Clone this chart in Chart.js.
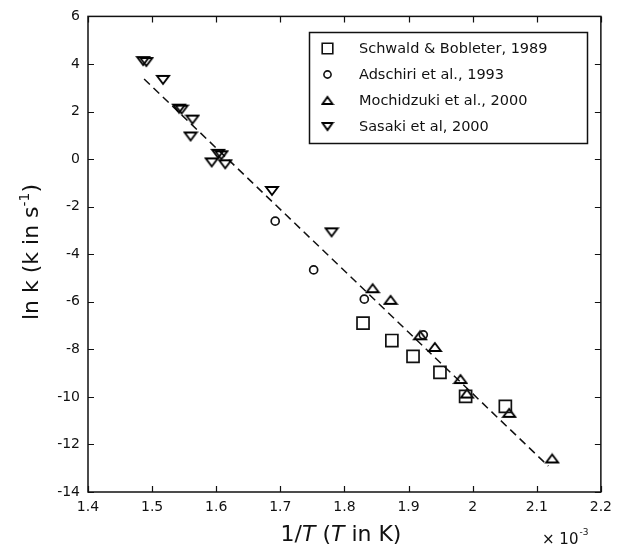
<!DOCTYPE html>
<html>
<head>
<meta charset="utf-8">
<script src="https://cdn.jsdelivr.net/npm/chart.js@4.4.0/dist/chart.umd.min.js"></script>
<style>
  html, body { margin: 0; padding: 0; background: #fff; }
  canvas { display: block; }
</style>
</head>
<body>
<canvas id="arrhenius" width="619" height="549"></canvas>
<script>
// Data (x in 1/K x 10^-3, y = ln k)
const schwaldX = [1.829, 1.874, 1.907, 1.949, 1.989, 2.051];
const schwaldY = [-6.9, -7.63, -8.3, -8.97, -9.98, -10.4];

const adschiriX = [1.692, 1.752, 1.831, 1.923];
const adschiriY = [-2.61, -4.66, -5.89, -7.39];

const mochidzukiX = [1.844, 1.872, 1.918, 1.941, 1.981, 1.991, 2.057, 2.124];
const mochidzukiY = [-5.43, -5.92, -7.41, -7.9, -9.25, -9.86, -10.67, -12.59];

const sasakiX = [1.486, 1.491, 1.517, 1.542, 1.546, 1.563, 1.560, 1.603, 1.608, 1.593, 1.614, 1.687, 1.780];
const sasakiY = [4.12, 4.08, 3.33, 2.12, 2.08, 1.66, 0.95, 0.22, 0.16, -0.14, -0.22, -1.34, -3.08];

const fitX = [1.4875, 2.118];
const fitY = [3.37, -12.91];

const seriesNames = ['Schwald & Bobleter, 1989', 'Adschiri et al., 1993', 'Mochidzuki et al., 2000', 'Sasaki et al, 2000'];

const xTicks = [1.4, 1.5, 1.6, 1.7, 1.8, 1.9, 2.0, 2.1, 2.2];
const xTickLabels = ['1.4', '1.5', '1.6', '1.7', '1.8', '1.9', '2', '2.1', '2.2'];
const yTicks = [6, 4, 2, 0, -2, -4, -6, -8, -10, -12, -14];
const yTickLabels = ['6', '4', '2', '0', '-2', '-4', '-6', '-8', '-10', '-12', '-14'];

const ink = '#111';
const fontFamily = '"DejaVu Sans", sans-serif';

// flat triangle markers (wider than tall, like the reference)
function triangleMarker(w, h, up) {
  const c = document.createElement('canvas');
  c.width = w + 4;
  c.height = h + 4;
  const g = c.getContext('2d');
  g.strokeStyle = '#000';
  g.lineWidth = 1.9;
  g.lineJoin = 'miter';
  g.beginPath();
  if (up) {
    g.moveTo(2 + w / 2, 2); g.lineTo(2 + w, 2 + h); g.lineTo(2, 2 + h);
  } else {
    g.moveTo(2, 2); g.lineTo(2 + w, 2); g.lineTo(2 + w / 2, 2 + h);
  }
  g.closePath();
  g.stroke();
  return c;
}
const upTri = triangleMarker(12, 8, true);
const downTri = triangleMarker(12, 8, false);
const upTriSmall = triangleMarker(10, 7, true);
const downTriSmall = triangleMarker(10, 7, false);

const toPoints = (xs, ys) => xs.map((x, i) => ({ x: x, y: ys[i] }));

const markerSet = (label, xs, ys, style, radius) => ({
  label: label,
  data: toPoints(xs, ys),
  pointStyle: style,
  pointRadius: radius,
  pointBorderWidth: 1.7,
  pointBorderColor: ink,
  pointBackgroundColor: 'rgba(0,0,0,0)',
  showLine: false
});

const legendStyles = [
  { pointStyle: 'rect', radius: 7.5 },
  { pointStyle: 'circle', radius: 3.6 },
  { pointStyle: upTriSmall, radius: 6 },
  { pointStyle: downTriSmall, radius: 6 }
];

// Frame, inward ticks, axis titles and legend
const decorations = {
  id: 'decorations',
  afterDraw(chart) {
    const ctx = chart.ctx;
    const area = chart.chartArea;
    const xs = chart.scales.x;
    const ys = chart.scales.y;
    const tick = 6;

    ctx.save();
    ctx.strokeStyle = ink;
    ctx.lineWidth = 1.5;
    ctx.strokeRect(area.left, area.top, area.right - area.left, area.bottom - area.top);

    ctx.lineWidth = 1.2;
    ctx.beginPath();
    xTicks.forEach(v => {
      const px = Math.round(xs.getPixelForValue(v)) + 0.5;
      ctx.moveTo(px, area.bottom); ctx.lineTo(px, area.bottom - tick);
      ctx.moveTo(px, area.top); ctx.lineTo(px, area.top + tick);
    });
    yTicks.forEach(v => {
      const py = Math.round(ys.getPixelForValue(v)) + 0.5;
      ctx.moveTo(area.left, py); ctx.lineTo(area.left + tick, py);
      ctx.moveTo(area.right, py); ctx.lineTo(area.right - tick, py);
    });
    ctx.stroke();

    // x axis title: 1/T (T in K)
    ctx.fillStyle = ink;
    ctx.textBaseline = 'alphabetic';
    const normal = '22px ' + fontFamily;
    const italic = 'oblique 22px ' + fontFamily;
    const parts = [['1/', normal], ['T', italic], [' (', normal], ['T', italic], [' in K)', normal]];
    let total = 0;
    parts.forEach(p => { ctx.font = p[1]; total += ctx.measureText(p[0]).width; });
    let cx = 341 - total / 2;
    parts.forEach(p => {
      ctx.font = p[1];
      ctx.textAlign = 'left';
      ctx.fillText(p[0], cx, 541);
      cx += ctx.measureText(p[0]).width;
    });

    // offset text
    ctx.font = '15px ' + fontFamily;
    ctx.fillText('\u00d7 10', 542, 544);
    const w10 = ctx.measureText('\u00d7 10').width;
    ctx.font = '9px ' + fontFamily;
    ctx.fillText('-3', 542 + w10 + 1, 535);

    // y axis title: ln k (k in s^-1)
    ctx.save();
    ctx.translate(38, 252);
    ctx.rotate(-Math.PI / 2);
    const yMain = 'ln k (k in s';
    ctx.font = '22px ' + fontFamily;
    const wMain = ctx.measureText(yMain).width;
    ctx.font = '14px ' + fontFamily;
    const wSup = ctx.measureText('-1').width;
    ctx.font = '22px ' + fontFamily;
    const wEnd = ctx.measureText(')').width;
    let sx = -(wMain + wSup + wEnd) / 2;
    ctx.fillText(yMain, sx, 0);
    sx += wMain;
    ctx.font = '14px ' + fontFamily;
    ctx.fillText('-1', sx, -9);
    sx += wSup;
    ctx.font = '22px ' + fontFamily;
    ctx.fillText(')', sx, 0);
    ctx.restore();

    // legend
    const box = { left: 309.5, top: 32.5, width: 278, height: 111 };
    ctx.fillStyle = '#fff';
    ctx.fillRect(box.left, box.top, box.width, box.height);
    ctx.lineWidth = 1.5;
    ctx.strokeStyle = ink;
    ctx.strokeRect(box.left, box.top, box.width, box.height);
    ctx.font = '14.5px ' + fontFamily;
    ctx.textBaseline = 'middle';
    ctx.textAlign = 'left';
    legendStyles.forEach((st, i) => {
      const rowY = 48.5 + i * 26;
      ctx.strokeStyle = ink;
      ctx.fillStyle = 'rgba(0,0,0,0)';
      ctx.lineWidth = 1.6;
      Chart.helpers.drawPoint(ctx, {
        pointStyle: st.pointStyle,
        rotation: 0,
        radius: st.radius,
        borderWidth: 1.6
      }, 327.5, rowY);
      ctx.fillStyle = ink;
      ctx.fillText(seriesNames[i], 359, rowY + 1);
    });
    ctx.restore();
  }
};

new Chart(document.getElementById('arrhenius'), {
  type: 'scatter',
  data: {
    datasets: [
      markerSet(seriesNames[0], schwaldX, schwaldY, 'rect', 8.5),
      markerSet(seriesNames[1], adschiriX, adschiriY, 'circle', 4),
      markerSet(seriesNames[2], mochidzukiX, mochidzukiY, upTri, 7),
      markerSet(seriesNames[3], sasakiX, sasakiY, downTri, 7),
      {
        label: 'fit',
        type: 'line',
        data: toPoints(fitX, fitY),
        borderColor: ink,
        borderWidth: 1.5,
        borderDash: [8, 5],
        pointRadius: 0,
        fill: false,
        tension: 0
      }
    ]
  },
  options: {
    responsive: false,
    animation: false,
    devicePixelRatio: 1,
    layout: { padding: { top: 15, right: 16, bottom: 0, left: 0 } },
    plugins: {
      legend: { display: false },
      tooltip: { enabled: false }
    },
    scales: {
      x: {
        type: 'linear',
        min: 1.4,
        max: 2.2,
        grid: { display: false, drawTicks: false },
        border: { display: false },
        afterBuildTicks: scale => { scale.ticks = xTicks.map(v => ({ value: v })); },
        afterFit: scale => { scale.height = 57; },
        ticks: {
          padding: 7,
          color: ink,
          maxRotation: 0,
          autoSkip: false,
          font: { family: fontFamily, size: 14 },
          callback: (v, i) => xTickLabels[i]
        }
      },
      y: {
        type: 'linear',
        min: -14,
        max: 6,
        grid: { display: false, drawTicks: false },
        border: { display: false },
        afterBuildTicks: scale => { scale.ticks = yTicks.map(v => ({ value: v })); },
        afterFit: scale => { scale.width = 88; },
        ticks: {
          padding: 8,
          color: ink,
          autoSkip: false,
          font: { family: fontFamily, size: 14 },
          callback: (v, i) => yTickLabels[i]
        }
      }
    }
  },
  plugins: [decorations]
});
</script>
</body>
</html>
